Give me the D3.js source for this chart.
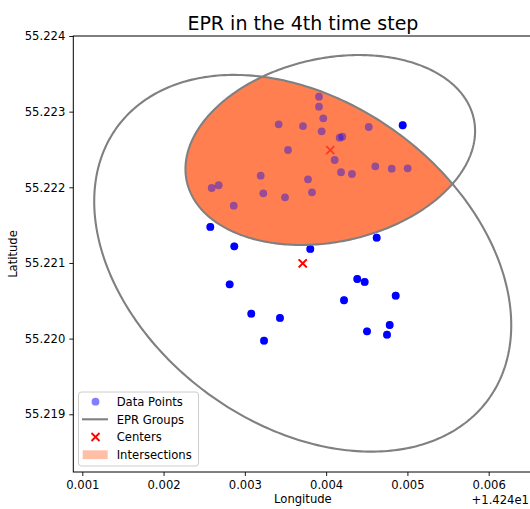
<!DOCTYPE html>
<html><head><meta charset="utf-8">
<script src="https://cdn.jsdelivr.net/npm/d3@7"></script>
<style>body{margin:0;background:#fff} svg{display:block} text{font-family:"DejaVu Sans",sans-serif;fill:#000}</style>
</head><body><svg id="c" width="530" height="509"></svg>
<script>
// Data points (longitude, latitude)
const pointLon = [14.243912,14.243912,14.243965,14.243416,14.243715,14.243945,14.244524,14.244167,14.244199,14.243531,
  14.244105,14.244183,14.244318,14.244605,14.244807,14.245003,14.243195,14.243777,14.242592,14.242678,
  14.243227,14.243494,14.243826,14.242863,14.244942,14.242575,14.242870,14.243805,14.244622,14.242813,
  14.244383,14.244474,14.244856,14.244220,14.243079,14.243432,14.243236,14.244503,14.244782,14.244749];
const pointLat = [55.223198,55.223066,55.222912,55.222833,55.222810,55.222740,55.222797,55.222656,55.222669,55.222493,
  55.222361,55.222199,55.222176,55.222278,55.222246,55.222251,55.222154,55.222106,55.221991,55.222027,
  55.221921,55.221868,55.221934,55.221757,55.222820,55.221476,55.221220,55.221185,55.221334,55.220718,
  55.220788,55.220749,55.220568,55.220507,55.220330,55.220273,55.219973,55.220097,55.220180,55.220052];
// EPR group centers and ellipses
const centerLon = [14.243712, 14.244051];
const centerLat = [55.220996, 55.222493];
const ellipseWidth = [0.0058298, 0.003628];
const ellipseHeight = [0.0041396, 0.002416];
const ellipseAngle = [-42.4, 14.6];
// Ticks
const xTicks = [14.241,14.242,14.243,14.244,14.245,14.246];
const xTickLabels = ["0.001","0.002","0.003","0.004","0.005","0.006"];
const yTicks = [55.219,55.220,55.221,55.222,55.223,55.224];
const yTickLabels = ["55.219","55.220","55.221","55.222","55.223","55.224"];
const legendLabels = ["Data Points","EPR Groups","Centers","Intersections"];
const titleText = "EPR in the 4th time step";

const L=73.3, R=532.5, T=36, B=472;
const x = d3.scaleLinear().domain([14.2408893, 14.246539]).range([L,R]);
const y = d3.scaleLinear().domain([55.218237, 55.224]).range([B,T]);
const svg = d3.select("#c");
const FS = 11.6;

function ellipsePts(i){
  const a=ellipseWidth[i]/2, b=ellipseHeight[i]/2, th=ellipseAngle[i]*Math.PI/180;
  return d3.range(0,361).map(k=>{const t=k*Math.PI/180;
    return [x(centerLon[i] + a*Math.cos(t)*Math.cos(th) - b*Math.sin(t)*Math.sin(th)),
            y(centerLat[i] + a*Math.cos(t)*Math.sin(th) + b*Math.sin(t)*Math.cos(th))];});
}
const line = d3.line();
const defs = svg.append("defs");
defs.append("clipPath").attr("id","clipA").append("path").attr("d", line(ellipsePts(0))+"Z");
defs.append("clipPath").attr("id","plot").append("rect").attr("x",L).attr("y",T).attr("width",R-L).attr("height",B-T);

const g = svg.append("g").attr("clip-path","url(#plot)");
const crossPath = "M-4,-4L4,4M-4,4L4,-4";
function drawPoints(op){
  g.append("g").selectAll("circle").data(pointLon).join("circle")
    .attr("cx",(d)=>x(d)).attr("cy",(d,i)=>y(pointLat[i])).attr("r",3.9)
    .attr("fill","#0000ff").attr("fill-opacity",op);
}
function drawCenters(op){
  g.append("g").selectAll("path").data(centerLon).join("path")
    .attr("transform",(d,i)=>`translate(${x(d)},${y(centerLat[i])})`)
    .attr("d",crossPath).attr("stroke","#ff0000").attr("stroke-width",1.8).attr("stroke-opacity",op).attr("fill","none");
}
drawPoints(1);
drawCenters(1);
g.append("path").attr("d", line(ellipsePts(1))+"Z").attr("fill","#ff7f50").attr("clip-path","url(#clipA)");
drawPoints(0.4);
drawCenters(0.55);
[0,1].forEach(i=>{
  g.append("path").attr("d", line(ellipsePts(i))+"Z").attr("fill","none").attr("stroke","#808080").attr("stroke-width",2.1);
});

// spines
svg.append("rect").attr("x",L).attr("y",T).attr("width",R-L).attr("height",B-T)
  .attr("fill","none").attr("stroke","#000").attr("stroke-width",1);

// axes
const xa = svg.append("g").attr("transform",`translate(0,${B})`)
  .call(d3.axisBottom(x).tickValues(xTicks).tickFormat((d,i)=>xTickLabels[i]).tickSize(4).tickPadding(4.5));
const ya = svg.append("g").attr("transform",`translate(${L},0)`)
  .call(d3.axisLeft(y).tickValues(yTicks).tickFormat((d,i)=>yTickLabels[i]).tickSize(4).tickPadding(4));
[xa,ya].forEach(a=>{a.select(".domain").remove();
  a.selectAll("text").attr("font-family","DejaVu Sans").attr("font-size",FS).attr("fill","#000");
  a.selectAll("line").attr("stroke","#000").attr("stroke-width",0.9);});

// labels
const cxAx = (L+R)/2;
svg.append("text").attr("x",cxAx).attr("y",30).attr("text-anchor","middle").attr("font-size",19).text(titleText);
svg.append("text").attr("x",cxAx).attr("y",503).attr("text-anchor","middle").attr("font-size",FS).text("Longitude");
svg.append("text").attr("transform","translate(17.3,254) rotate(-90)").attr("text-anchor","middle").attr("font-size",FS).text("Latitude");
svg.append("text").attr("x",529).attr("y",503.5).attr("text-anchor","end").attr("font-size",FS).text("+1.424e1");

// legend
const lg = svg.append("g");
lg.append("rect").attr("x",78.5).attr("y",392).attr("width",120).attr("height",74).attr("rx",3)
  .attr("fill","#fff").attr("fill-opacity",0.8).attr("stroke","#cccccc").attr("stroke-width",1);
const rows=[401.7,419.3,437,454.7];
lg.append("circle").attr("cx",95.5).attr("cy",rows[0]).attr("r",3.9).attr("fill","#0000ff").attr("fill-opacity",0.5);
lg.append("line").attr("x1",82).attr("x2",108).attr("y1",rows[1]).attr("y2",rows[1]).attr("stroke","#808080").attr("stroke-width",2.1);
lg.append("path").attr("transform",`translate(95.5,${rows[2]})`).attr("d",crossPath).attr("stroke","#ff0000").attr("stroke-width",1.8).attr("fill","none");
lg.append("rect").attr("x",82.7).attr("y",rows[3]-4.4).attr("width",25).attr("height",8.8).attr("fill","#ff7f50").attr("fill-opacity",0.5);
legendLabels.forEach((t,i)=>{
  lg.append("text").attr("x",116.7).attr("y",rows[i]+4.2).attr("font-size",FS).text(t);
});
</script></body></html>
